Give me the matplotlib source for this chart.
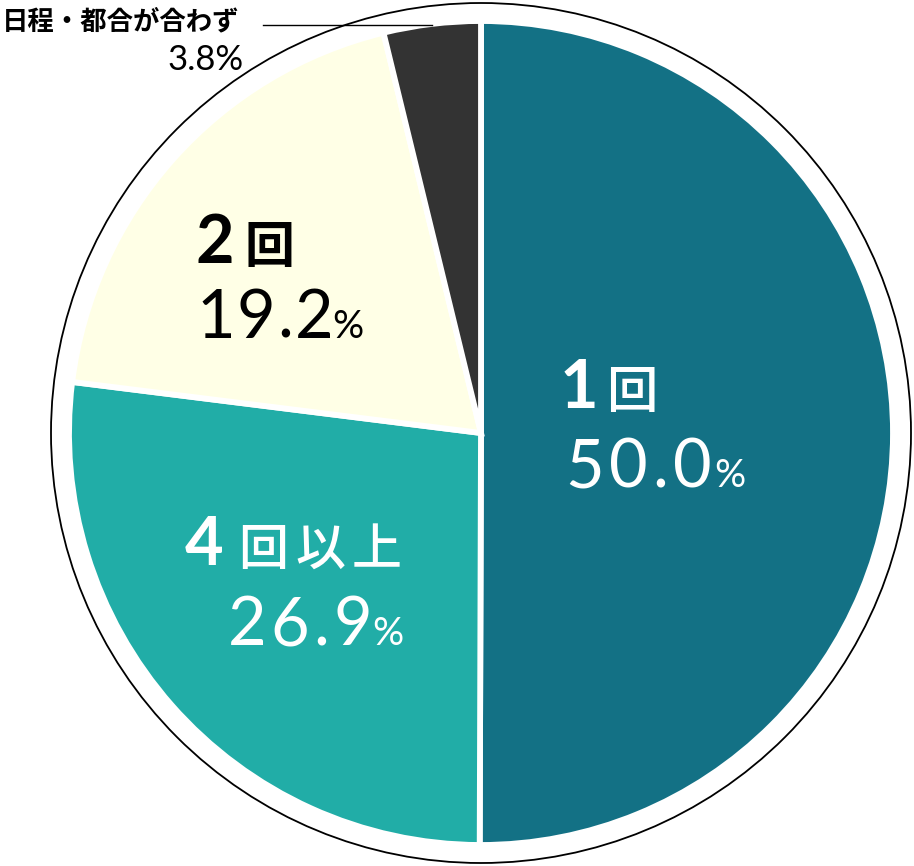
import matplotlib
matplotlib.use('Agg')
import matplotlib.pyplot as plt

# data
labels = ['1回', '4回以上', '2回', '日程・都合が合わず']
values = [50.0, 26.9, 19.2, 3.8]
pct_text = ['50.0', '26.9', '19.2', '3.8%']
colors = ['#137185', '#21ada7', '#ffffe6', '#333333']

W, H = 914, 866
fig = plt.figure(figsize=(W / 100, H / 100), dpi=100)
ax = fig.add_axes([0, 0, 1, 1])

cx, cy, r = 481, H - 433, 412

ax.pie(values, colors=colors, startangle=90, counterclock=False,
       center=(cx, cy), radius=r, frame=True,
       wedgeprops=dict(edgecolor='white', linewidth=4.2))
ax.set_xlim(0, W)
ax.set_ylim(0, H)
ax.axis('off')

# outer ring
ax.add_patch(plt.Circle((cx, cy), 430, fill=False, color='black', lw=1.3))

NUM = 'Lato'
JP = 'Noto Sans CJK JP'
renderer = fig.canvas.get_renderer()


def put(x, y, s, size, color, family, weight='normal', track=0):
    # x, y in pixels from top-left; chars laid out one by one with extra tracking
    for ch in s:
        t = ax.text(x, H - y, ch, fontsize=size, color=color, family=family,
                    fontweight=weight, va='baseline', ha='left')
        bb = t.get_window_extent(renderer)
        x = bb.x1 + track
    return x


# 1回 50.0%
put(560, 408, '1', 48, 'white', NUM, 'bold')
put(606, 408, '回', 37, 'white', JP, 'medium')
x = put(565, 487, pct_text[0], 48, 'white', NUM, track=5)
put(x - 3, 487, '%', 28, 'white', NUM)

# 4回以上 26.9%
put(185, 565, '4', 48, 'white', NUM, 'bold')
put(238, 565, labels[1][1:], 36, 'white', JP, 'medium', track=7)
x = put(228, 645, pct_text[1], 48, 'white', NUM, track=4)
put(x - 4, 645, '%', 28, 'white', NUM)

# 2回 19.2%
put(196, 263, '2', 48, 'black', NUM, 'bold')
put(245, 263, '回', 36, 'black', JP, 'bold')
x = put(196, 338, pct_text[2], 48, 'black', NUM, track=2)
put(x - 4, 338, '%', 28, 'black', NUM)

# small slice label with leader line
ax.text(2, H - 22, labels[3], fontsize=19, color='black', family=[JP, 'DejaVu Sans'],
        fontweight='bold', va='center', ha='left')
ax.text(244, H - 70, pct_text[3], fontsize=25, color='black', family=NUM,
        va='baseline', ha='right')
ax.plot([263, 432], [H - 25, H - 25], color='black', lw=1.0)

fig.savefig('out.png', dpi=100)
